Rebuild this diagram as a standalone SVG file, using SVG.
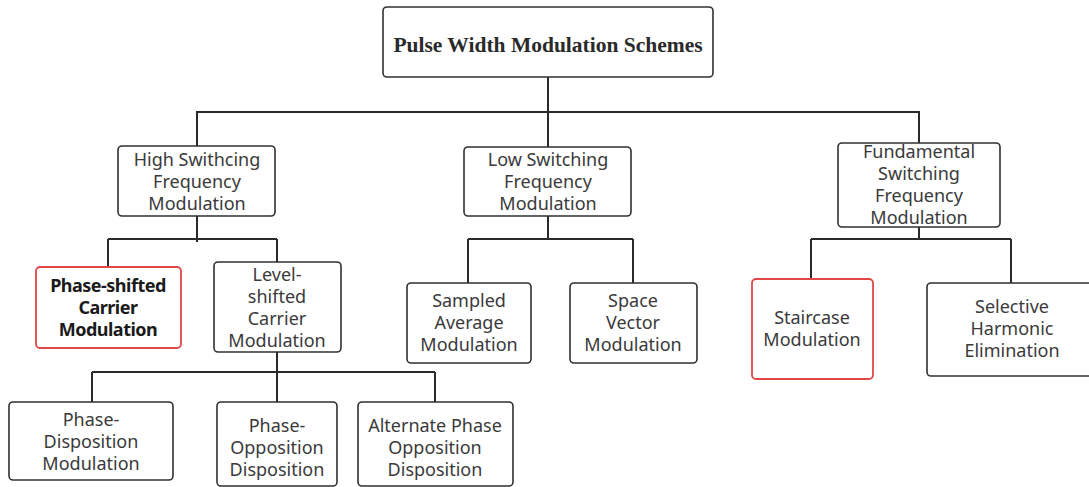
<svg xmlns="http://www.w3.org/2000/svg" width="1089" height="487" viewBox="0 0 1089 487">
  <style>
    .box { fill: #ffffff; stroke: #2f3033; stroke-width: 1.6; }
    .hot { fill: #ffffff; stroke: #e04848; stroke-width: 1.8; }
    .lbl { font-family: "Noto Sans", "Open Sans", sans-serif; font-size: 18px; fill: #3a3a3a; text-anchor: middle; }
    .bold { font-family: "Noto Sans", "Open Sans", sans-serif; font-size: 18px; font-weight: bold; fill: #1a1a1a; text-anchor: middle; letter-spacing: -0.5px; }
    .title { font-family: "Liberation Serif", "Times New Roman", serif; font-size: 21.5px; font-weight: bold; fill: #2a2a2a; text-anchor: middle; }
    .wire { fill: none; stroke: #2a2a2a; stroke-width: 2; }
  </style>
  <rect width="1089" height="487" fill="#ffffff"/>

  <!-- connectors -->
  <g id="connectors">
    <path class="wire" d="M548 77 V112 M196 112 H920 M197 112 V146 M548 112 V147 M919 112 V143"/>
    <path class="wire" d="M197 216 V242 M108 239 H277 M108 239 V267 M277 239 V262"/>
    <path class="wire" d="M277 352 V372 M92 372 H435 M92 372 V402 M277 372 V402 M435 372 V402"/>
    <path class="wire" d="M548 216 V239 M468 239 H633 M468 239 V283 M633 239 V283"/>
    <path class="wire" d="M919 227 V239 M811 239 H1011 M811 239 V279 M1011 239 V283"/>
  </g>

  <g id="root">
    <rect class="box" x="383" y="7" width="330" height="70" rx="4"/>
    <text class="title" x="548" y="52">Pulse Width Modulation Schemes</text>
  </g>

  <g id="high-freq">
    <rect class="box" x="118" y="146" width="157" height="70" rx="4"/>
    <text class="lbl" x="197"><tspan x="197" y="166">High Swithcing</tspan><tspan x="197" y="188">Frequency</tspan><tspan x="197" y="210">Modulation</tspan></text>
  </g>

  <g id="low-freq">
    <rect class="box" x="464" y="147" width="167" height="69" rx="4"/>
    <text class="lbl"><tspan x="548" y="166">Low Switching</tspan><tspan x="548" y="188">Frequency</tspan><tspan x="548" y="210">Modulation</tspan></text>
  </g>

  <g id="fundamental">
    <rect class="box" x="838" y="143" width="162" height="84" rx="4"/>
    <text class="lbl"><tspan x="919" y="158">Fundamental</tspan><tspan x="919" y="180">Switching</tspan><tspan x="919" y="202">Frequency</tspan><tspan x="919" y="224">Modulation</tspan></text>
  </g>

  <g id="phase-shifted">
    <rect class="hot" x="36" y="267" width="145" height="81" rx="4"/>
    <text class="bold"><tspan x="108" y="292">Phase-shifted</tspan><tspan x="108" y="314">Carrier</tspan><tspan x="108" y="336">Modulation</tspan></text>
  </g>

  <g id="level-shifted">
    <rect class="box" x="214" y="262" width="127" height="90" rx="4"/>
    <text class="lbl"><tspan x="277" y="281">Level-</tspan><tspan x="277" y="303">shifted</tspan><tspan x="277" y="325">Carrier</tspan><tspan x="277" y="347">Modulation</tspan></text>
  </g>

  <g id="sampled-average">
    <rect class="box" x="407" y="283" width="124" height="80" rx="4"/>
    <text class="lbl"><tspan x="469" y="307">Sampled</tspan><tspan x="469" y="329">Average</tspan><tspan x="469" y="351">Modulation</tspan></text>
  </g>

  <g id="space-vector">
    <rect class="box" x="570" y="283" width="127" height="80" rx="4"/>
    <text class="lbl"><tspan x="633" y="307">Space</tspan><tspan x="633" y="329">Vector</tspan><tspan x="633" y="351">Modulation</tspan></text>
  </g>

  <g id="staircase">
    <rect class="hot" x="752" y="279" width="121" height="100" rx="4"/>
    <text class="lbl"><tspan x="812" y="324">Staircase</tspan><tspan x="812" y="346">Modulation</tspan></text>
  </g>

  <g id="selective-harmonic">
    <rect class="box" x="927" y="283" width="170" height="93" rx="4"/>
    <text class="lbl"><tspan x="1012" y="313">Selective</tspan><tspan x="1012" y="335">Harmonic</tspan><tspan x="1012" y="357">Elimination</tspan></text>
  </g>

  <g id="phase-disposition">
    <rect class="box" x="9" y="402" width="164" height="78" rx="4"/>
    <text class="lbl"><tspan x="91" y="426">Phase-</tspan><tspan x="91" y="448">Disposition</tspan><tspan x="91" y="470">Modulation</tspan></text>
  </g>

  <g id="phase-opposition">
    <rect class="box" x="217" y="402" width="120" height="84" rx="4"/>
    <text class="lbl"><tspan x="277" y="432">Phase-</tspan><tspan x="277" y="454">Opposition</tspan><tspan x="277" y="476">Disposition</tspan></text>
  </g>

  <g id="alternate-phase-opposition">
    <rect class="box" x="358" y="402" width="155" height="84" rx="4"/>
    <text class="lbl"><tspan x="435" y="432">Alternate Phase</tspan><tspan x="435" y="454">Opposition</tspan><tspan x="435" y="476">Disposition</tspan></text>
  </g>
</svg>
